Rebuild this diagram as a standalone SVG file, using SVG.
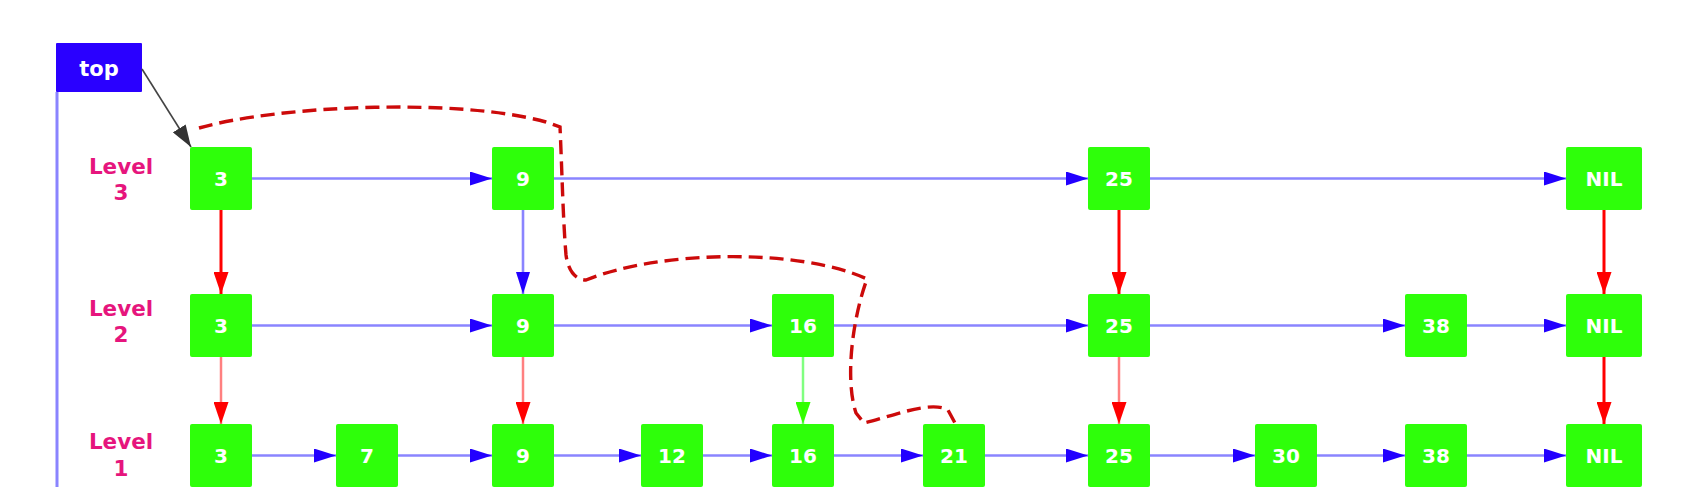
<svg xmlns="http://www.w3.org/2000/svg" width="1696" height="494" viewBox="0 0 1696 494">
<defs>
<style>
.node rect{fill:#2eff0a;}
.node text{fill:#ffffff;font-family:"DejaVu Sans",sans-serif;font-size:20px;font-weight:bold;text-anchor:middle;}
.lvl{fill:#e6157d;font-family:"DejaVu Sans",sans-serif;font-size:21.5px;font-weight:bold;text-anchor:middle;}
.h{stroke:#8a84ff;stroke-width:2.6;fill:none;marker-end:url(#mb);}
.vb{stroke:#8a84ff;stroke-width:2.6;fill:none;marker-end:url(#mb);}
.vr{stroke:#ff0000;stroke-width:3;fill:none;marker-end:url(#mr);}
.vlr{stroke:#ff8080;stroke-width:2.5;fill:none;marker-end:url(#mr);}
.vg{stroke:#80ff80;stroke-width:2.5;fill:none;marker-end:url(#mg);}
.dash{stroke:#cc0a0a;stroke-width:3.4;fill:none;stroke-dasharray:14 7;}
</style>
<marker id="mb" markerUnits="userSpaceOnUse" markerWidth="22" markerHeight="14" refX="22" refY="7" orient="auto"><path d="M0,0 L22,7 L0,14 z" fill="#2200ff"/></marker>
<marker id="mr" markerUnits="userSpaceOnUse" markerWidth="22" markerHeight="15" refX="22" refY="7.5" orient="auto"><path d="M0,0 L22,7.5 L0,15 z" fill="#ff0000"/></marker>
<marker id="mg" markerUnits="userSpaceOnUse" markerWidth="22" markerHeight="15" refX="22" refY="7.5" orient="auto"><path d="M0,0 L22,7.5 L0,15 z" fill="#33ff00"/></marker>
<marker id="mk" markerUnits="userSpaceOnUse" markerWidth="22" markerHeight="15" refX="22" refY="7.5" orient="auto"><path d="M0,0 L22,7.5 L0,15 z" fill="#333333"/></marker>
</defs>
<rect width="1696" height="494" fill="#ffffff"/>

<g id="top">
<rect x="56" y="43" width="86" height="49" fill="#2a00ff" rx="1"/>
<text x="99" y="76" fill="#ffffff" font-family="DejaVu Sans,sans-serif" font-size="21" font-weight="bold" text-anchor="middle">top</text>
</g>

<g id="labels">
<text class="lvl" x="121" y="174">Level</text><text class="lvl" x="121" y="200">3</text>
<text class="lvl" x="121" y="316">Level</text><text class="lvl" x="121" y="342">2</text>
<text class="lvl" x="121" y="449">Level</text><text class="lvl" x="121" y="476">1</text>
</g>

<g id="connectors">
<line x1="57" y1="92" x2="57" y2="487" stroke="#8a84ff" stroke-width="3"/>
<line x1="142" y1="69" x2="191" y2="147" stroke="#444444" stroke-width="1.6" marker-end="url(#mk)"/>
<!-- row 3 -->
<line class="h" x1="252" y1="178.5" x2="492" y2="178.5"/>
<line class="h" x1="554" y1="178.5" x2="1088" y2="178.5"/>
<line class="h" x1="1150" y1="178.5" x2="1566" y2="178.5"/>
<!-- row 2 -->
<line class="h" x1="252" y1="325.5" x2="492" y2="325.5"/>
<line class="h" x1="554" y1="325.5" x2="772" y2="325.5"/>
<line class="h" x1="834" y1="325.5" x2="1088" y2="325.5"/>
<line class="h" x1="1150" y1="325.5" x2="1405" y2="325.5"/>
<line class="h" x1="1467" y1="325.5" x2="1566" y2="325.5"/>
<!-- row 1 -->
<line class="h" x1="252" y1="455.5" x2="336" y2="455.5"/>
<line class="h" x1="398" y1="455.5" x2="492" y2="455.5"/>
<line class="h" x1="554" y1="455.5" x2="641" y2="455.5"/>
<line class="h" x1="703" y1="455.5" x2="772" y2="455.5"/>
<line class="h" x1="834" y1="455.5" x2="923" y2="455.5"/>
<line class="h" x1="985" y1="455.5" x2="1088" y2="455.5"/>
<line class="h" x1="1150" y1="455.5" x2="1255" y2="455.5"/>
<line class="h" x1="1317" y1="455.5" x2="1405" y2="455.5"/>
<line class="h" x1="1467" y1="455.5" x2="1566" y2="455.5"/>
<!-- vertical 3->2 -->
<line class="vr" x1="221" y1="210" x2="221" y2="294"/>
<line class="vb" x1="523" y1="210" x2="523" y2="294"/>
<line class="vr" x1="1119" y1="210" x2="1119" y2="294"/>
<line class="vr" x1="1604" y1="210" x2="1604" y2="294"/>
<!-- vertical 2->1 -->
<line class="vlr" x1="221" y1="357" x2="221" y2="424"/>
<line class="vlr" x1="523" y1="357" x2="523" y2="424"/>
<line class="vg" x1="803" y1="357" x2="803" y2="424"/>
<line class="vlr" x1="1119" y1="357" x2="1119" y2="424"/>
<line class="vr" x1="1604" y1="357" x2="1604" y2="424"/>
</g>

<g id="n3-3" class="node"><rect x="190" y="147" width="62" height="63" rx="2"/><text x="221" y="186">3</text></g>
<g id="n3-9" class="node"><rect x="492" y="147" width="62" height="63" rx="2"/><text x="523" y="186">9</text></g>
<g id="n3-25" class="node"><rect x="1088" y="147" width="62" height="63" rx="2"/><text x="1119" y="186">25</text></g>
<g id="n3-nil" class="node"><rect x="1566" y="147" width="76" height="63" rx="2"/><text x="1604" y="186">NIL</text></g>

<g id="n2-3" class="node"><rect x="190" y="294" width="62" height="63" rx="2"/><text x="221" y="333">3</text></g>
<g id="n2-9" class="node"><rect x="492" y="294" width="62" height="63" rx="2"/><text x="523" y="333">9</text></g>
<g id="n2-16" class="node"><rect x="772" y="294" width="62" height="63" rx="2"/><text x="803" y="333">16</text></g>
<g id="n2-25" class="node"><rect x="1088" y="294" width="62" height="63" rx="2"/><text x="1119" y="333">25</text></g>
<g id="n2-38" class="node"><rect x="1405" y="294" width="62" height="63" rx="2"/><text x="1436" y="333">38</text></g>
<g id="n2-nil" class="node"><rect x="1566" y="294" width="76" height="63" rx="2"/><text x="1604" y="333">NIL</text></g>

<g id="n1-3" class="node"><rect x="190" y="424" width="62" height="63" rx="2"/><text x="221" y="463">3</text></g>
<g id="n1-7" class="node"><rect x="336" y="424" width="62" height="63" rx="2"/><text x="367" y="463">7</text></g>
<g id="n1-9" class="node"><rect x="492" y="424" width="62" height="63" rx="2"/><text x="523" y="463">9</text></g>
<g id="n1-12" class="node"><rect x="641" y="424" width="62" height="63" rx="2"/><text x="672" y="463">12</text></g>
<g id="n1-16" class="node"><rect x="772" y="424" width="62" height="63" rx="2"/><text x="803" y="463">16</text></g>
<g id="n1-21" class="node"><rect x="923" y="424" width="62" height="63" rx="2"/><text x="954" y="463">21</text></g>
<g id="n1-25" class="node"><rect x="1088" y="424" width="62" height="63" rx="2"/><text x="1119" y="463">25</text></g>
<g id="n1-30" class="node"><rect x="1255" y="424" width="62" height="63" rx="2"/><text x="1286" y="463">30</text></g>
<g id="n1-38" class="node"><rect x="1405" y="424" width="62" height="63" rx="2"/><text x="1436" y="463">38</text></g>
<g id="n1-nil" class="node"><rect x="1566" y="424" width="76" height="63" rx="2"/><text x="1604" y="463">NIL</text></g>

<g id="search-path">
<path class="dash" d="M199,128 C280,105 460,98 546,122 L560,127 C562,170 563,220 566,255 C568,270 575,280 586,280 C660,250 800,248 867,279 C852,320 845,380 856,413 L864,423 C890,417 930,400 948,410 L955,423"/>
</g>
</svg>
